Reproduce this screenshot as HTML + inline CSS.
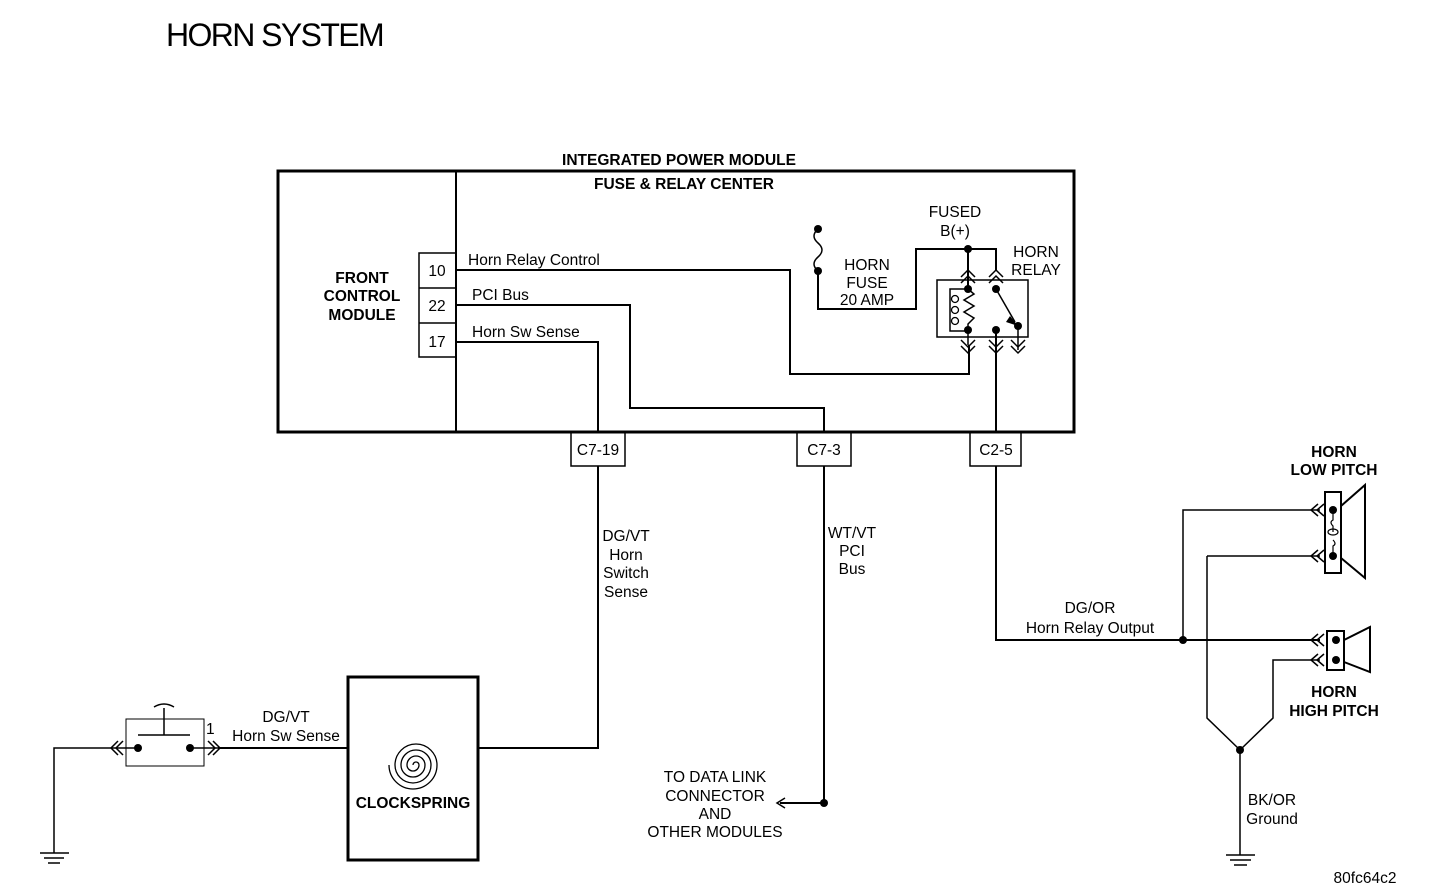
<!DOCTYPE html>
<html><head><style>
html,body{margin:0;padding:0;background:#fff;width:1440px;height:890px;overflow:hidden}
text{font-family:"Liberation Sans",sans-serif;fill:#000}
.b{font-weight:bold;font-size:15.5px}
.n{font-size:15.5px}
</style></head><body>
<svg width="1440" height="890" viewBox="0 0 1440 890" xmlns="http://www.w3.org/2000/svg">
<g fill="none" stroke="#000" stroke-width="2">
<rect x="278" y="171" width="796" height="261" stroke-width="3"/>
<line x1="456" y1="171" x2="456" y2="432"/>
<path d="M456 253 H419 V357 H456 M419 288 H456 M419 323 H456" stroke-width="1.5"/>
<polyline points="456,270 790,270 790,374 969,374 969,345"/>
<polyline points="456,305 630,305 630,408 824,408 824,432"/>
<polyline points="456,342 598,342 598,432"/>
<polyline points="996,345 996,432"/>
<rect x="571" y="432" width="54" height="34" stroke-width="1.5"/>
<rect x="797" y="432" width="54" height="34" stroke-width="1.5"/>
<rect x="970" y="432" width="51" height="34" stroke-width="1.5"/>
<polyline points="598,466 598,748 478,748"/>
<polyline points="824,466 824,803 780,803"/>
<polyline points="996,466 996,640 1320,640"/>
<polyline points="818,271 818,309 916,309 916,249 996,249 996,270"/>
<line x1="968" y1="249" x2="968" y2="290"/>
<path d="M818 229 q-8 7 0 14 q8 7 0 14 q-8 7 0 14" stroke-width="1.5"/>
<rect x="937" y="280" width="91" height="57" stroke-width="1.5"/>
<path d="M968 289 l6 5 l-10 6 l10 6 l-10 6 l10 6 l-6 6 V345" stroke-width="1.5"/>
<path d="M968 289 H950 V331 H968" stroke-width="1.5"/>
<circle cx="955" cy="299" r="3.5" stroke-width="1.3"/><circle cx="955" cy="310" r="3.5" stroke-width="1.3"/><circle cx="955" cy="321" r="3.5" stroke-width="1.3"/>
<line x1="996" y1="289" x2="1015" y2="322" stroke-width="1.5"/>
<line x1="996" y1="330" x2="996" y2="345"/>
<line x1="1018" y1="326" x2="1018" y2="350" stroke-width="1.5"/>
<g stroke-width="1.5">
<path d="M961 277 l7 -7 l7 7 M961 283 l7 -7 l7 7"/>
<path d="M989 277 l7 -7 l7 7 M989 283 l7 -7 l7 7"/>
<path d="M961 340 l7 7 l7 -7 M961 346 l7 7 l7 -7"/>
<path d="M989 340 l7 7 l7 -7 M989 346 l7 7 l7 -7"/>
<path d="M1011 340 l7 7 l7 -7 M1011 346 l7 7 l7 -7"/>
</g>
<polyline points="1183,640 1183,510 1320,510" stroke-width="1.5"/>
<polyline points="1207,556 1320,556" stroke-width="1.5"/>
<polyline points="1207,556 1207,718 1240,750 1273,718 1273,660 1320,660" stroke-width="1.5"/>
<line x1="1240" y1="750" x2="1240" y2="855" stroke-width="1.5"/>
<rect x="1325" y="492" width="16" height="81" stroke-width="2"/>
<path d="M1341 506 L1365 485 V578 L1341 558"/>
<path d="M1333 510 v10 q-4 2 0 6 v6 M1333 556 v-10 q4 -2 0 -6" stroke-width="1.2"/>
<ellipse cx="1333" cy="532" rx="5" ry="3" stroke-width="1.2"/>
<rect x="1327" y="631" width="17" height="39" stroke-width="2"/>
<path d="M1344 640 L1370 627 V672 L1344 662"/>
<g stroke-width="1.5">
<path d="M1318 504 l-7 6 l7 6 M1324 504 l-7 6 l7 6"/>
<path d="M1318 550 l-7 6 l7 6 M1324 550 l-7 6 l7 6"/>
<path d="M1318 634 l-7 6 l7 6 M1324 634 l-7 6 l7 6"/>
<path d="M1318 654 l-7 6 l7 6 M1324 654 l-7 6 l7 6"/>
</g>
<rect x="348" y="677" width="130" height="183" stroke-width="3"/>
<path d="M413 765 a3 3 0 0 1 6 0 a6 6 0 0 1 -12 0 a9 9 0 0 1 18 0 a12 12 0 0 1 -24 0 a15 15 0 0 1 30 0 a18 18 0 0 1 -36 0 a21 21 0 0 1 42 0 a24 24 0 0 1 -48 0" stroke-width="1.3"/>
<rect x="126" y="719" width="78" height="47" stroke-width="1"/>
<path d="M138 735 H190 M164 735 V708 M154 707 q10 -6 20 0" stroke-width="1.5"/>
<line x1="190" y1="748" x2="218" y2="748" stroke-width="1.5"/>
<line x1="218" y1="748" x2="348" y2="748"/>
<path d="M208 741 l7 7 l-7 7 M213 741 l7 7 l-7 7" stroke-width="1.5"/>
<path d="M118 741 l-7 7 l7 7 M123 741 l-7 7 l7 7" stroke-width="1.5"/>
<polyline points="138,748 54,748 54,853" stroke-width="1.5"/>
<path d="M40 853 H69 M44 858 H64 M48 863 H60" stroke-width="1.5"/>
<path d="M1226 855 H1255 M1230 860 H1251 M1234 865 H1247" stroke-width="1.5"/>
<path d="M785 798 L777 803 L785 808" stroke-width="1.5"/>
</g>
<g fill="#000">
<circle cx="818" cy="229" r="4"/><circle cx="818" cy="271" r="4"/>
<circle cx="968" cy="249" r="4"/>
<circle cx="968" cy="289" r="4"/><circle cx="968" cy="330" r="4"/>
<circle cx="996" cy="289" r="4"/><circle cx="996" cy="330" r="4"/><circle cx="1018" cy="326" r="4"/>
<path d="M1010 316 L1018 326 L1006 322 Z"/>
<circle cx="824" cy="803" r="4"/>
<circle cx="1183" cy="640" r="4"/>
<circle cx="1240" cy="750" r="4"/>
<circle cx="1333" cy="510" r="4"/><circle cx="1333" cy="556" r="4"/>
<circle cx="1336" cy="640" r="4"/><circle cx="1336" cy="660" r="4"/>
<circle cx="138" cy="748" r="4"/><circle cx="190" cy="748" r="4"/>
</g>
<text x="166" y="46" font-size="32" letter-spacing="-1.6">HORN SYSTEM</text>
<text x="679" y="165" class="b" text-anchor="middle">INTEGRATED POWER MODULE</text>
<text x="684" y="189" class="b" text-anchor="middle">FUSE &amp; RELAY CENTER</text>
<g class="b" text-anchor="middle"><text x="362" y="283" class="b">FRONT</text><text x="362" y="301" class="b">CONTROL</text><text x="362" y="320" class="b">MODULE</text></g>
<g text-anchor="middle" class="n">
<text x="437" y="276" class="n">10</text><text x="437" y="311" class="n">22</text><text x="437" y="347" class="n">17</text>
<text x="598" y="455" class="n">C7-19</text><text x="824" y="455" class="n">C7-3</text><text x="996" y="455" class="n">C2-5</text>
<text x="955" y="217" class="n">FUSED</text><text x="955" y="236" class="n">B(+)</text>
<text x="867" y="270" class="n">HORN</text><text x="867" y="288" class="n">FUSE</text><text x="867" y="305" class="n">20 AMP</text>
<text x="1036" y="257" class="n">HORN</text><text x="1036" y="275" class="n">RELAY</text>
<text x="626" y="541" class="n">DG/VT</text><text x="626" y="560" class="n">Horn</text><text x="626" y="578" class="n">Switch</text><text x="626" y="597" class="n">Sense</text>
<text x="852" y="538" class="n">WT/VT</text><text x="852" y="556" class="n">PCI</text><text x="852" y="574" class="n">Bus</text>
<text x="1090" y="613" class="n">DG/OR</text><text x="1090" y="633" class="n">Horn Relay Output</text>
<text x="715" y="782" class="n">TO DATA LINK</text><text x="715" y="801" class="n">CONNECTOR</text><text x="715" y="819" class="n">AND</text><text x="715" y="837" class="n">OTHER MODULES</text>
<text x="1272" y="805" class="n">BK/OR</text><text x="1272" y="824" class="n">Ground</text>
<text x="286" y="722" class="n">DG/VT</text><text x="286" y="741" class="n">Horn Sw Sense</text>
<text x="1334" y="457" class="b">HORN</text><text x="1334" y="475" class="b">LOW PITCH</text>
<text x="1334" y="697" class="b">HORN</text><text x="1334" y="716" class="b">HIGH PITCH</text>
<text x="413" y="808" class="b">CLOCKSPRING</text>
<text x="1365" y="883" class="n">80fc64c2</text>
</g>
<text x="468" y="265" class="n">Horn Relay Control</text>
<text x="472" y="300" class="n">PCI Bus</text>
<text x="472" y="337" class="n">Horn Sw Sense</text>
<text x="206" y="734" class="n">1</text>
</svg>
</body></html>
